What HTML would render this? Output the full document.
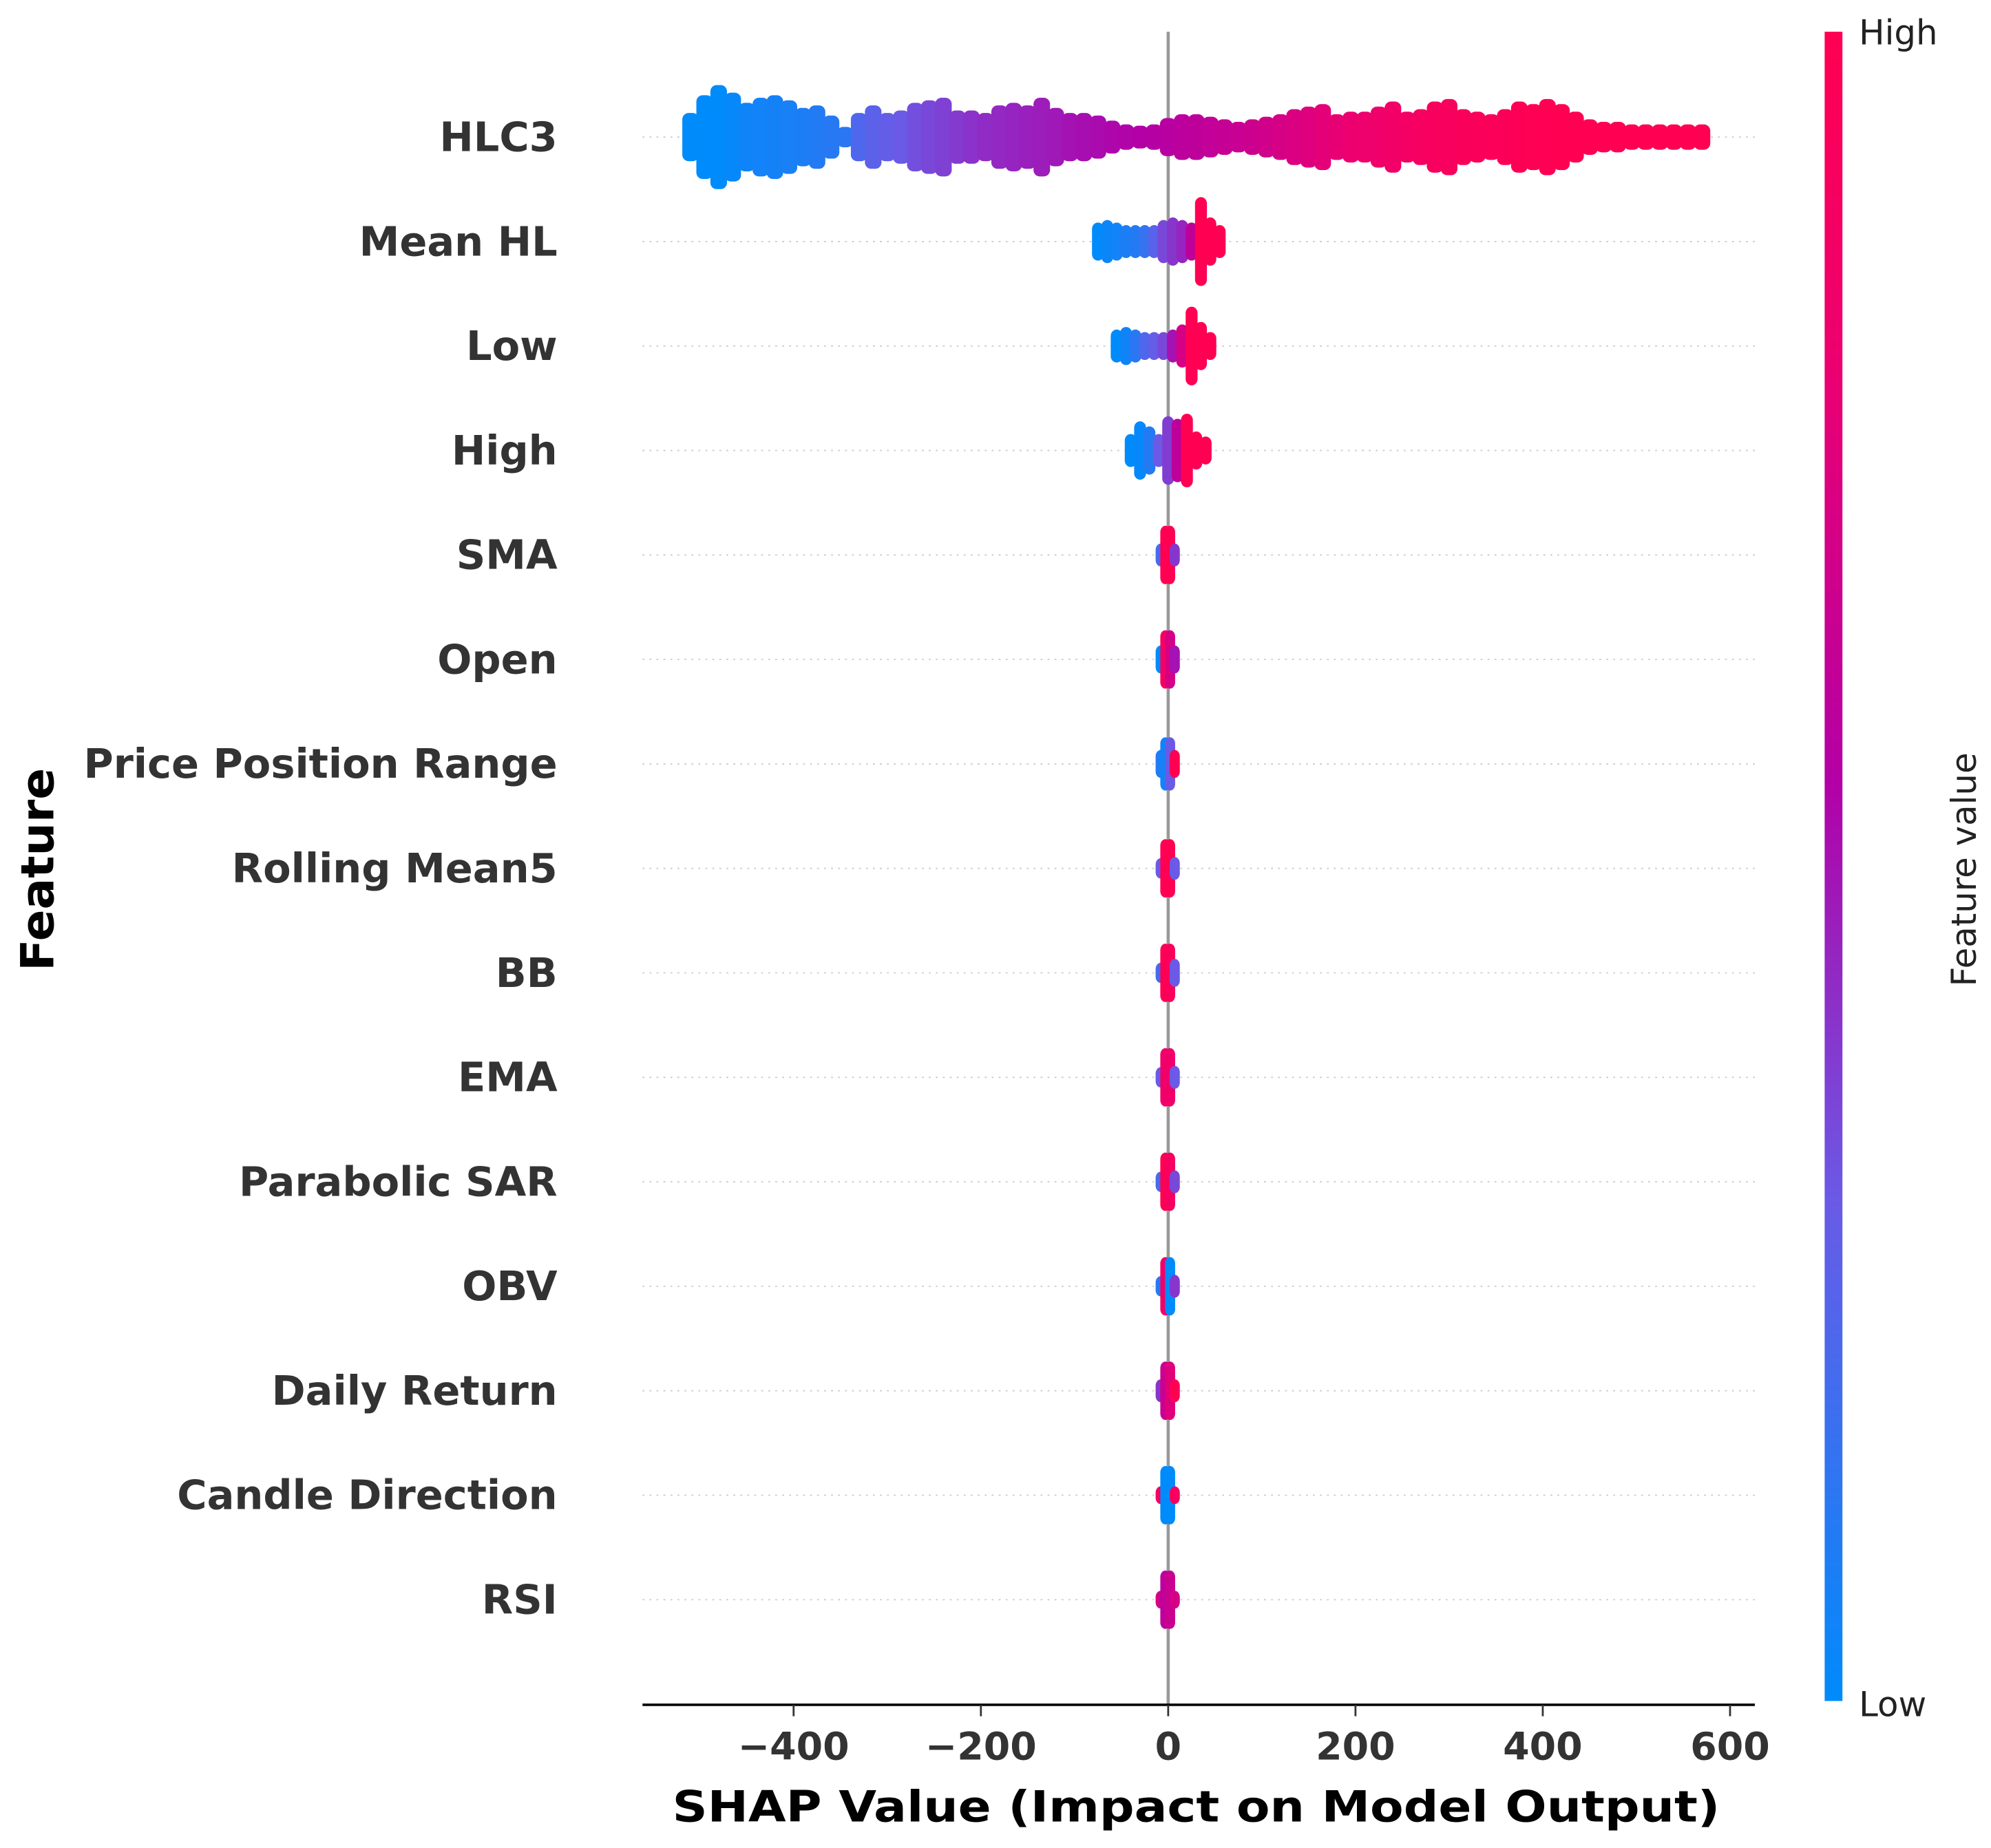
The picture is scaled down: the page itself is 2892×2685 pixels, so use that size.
<!DOCTYPE html>
<html><head><meta charset="utf-8"><style>
html,body{margin:0;padding:0;background:#fff;}
svg{display:block;}
text{font-family:"DejaVu Sans","Liberation Sans",sans-serif;}
</style></head><body>
<svg id="chart" width="2892" height="2685" viewBox="0 0 1568 1455.8" preserveAspectRatio="none" xmlns="http://www.w3.org/2000/svg">
<defs>
<linearGradient id="cbar" x1="0" y1="1" x2="0" y2="0">
<stop offset="0" stop-color="#008bfb"/><stop offset="0.3" stop-color="#6a5ae6"/><stop offset="0.55" stop-color="#b300a6"/><stop offset="0.8" stop-color="#ec0070"/><stop offset="1" stop-color="#ff0052"/>
</linearGradient>
</defs>
<g id="grid"></g>
<line x1="920" y1="25" x2="920" y2="1343" stroke="#999" stroke-width="2.5"/>
<g id="marks"></g>
<g id="labels"></g>
<line x1="506" y1="1343" x2="1382" y2="1343" stroke="#000" stroke-width="2"/>
<g id="xticks"></g>
<text x="942" y="1435" text-anchor="middle" font-size="34" font-weight="bold" fill="#000" textLength="825" lengthAdjust="spacingAndGlyphs">SHAP Value (Impact on Model Output)</text>
<text transform="translate(42,685) rotate(-90)" text-anchor="middle" font-size="36" font-weight="bold" fill="#000" textLength="160" lengthAdjust="spacingAndGlyphs">Feature</text>
<rect x="1437" y="25" width="14" height="1315" fill="url(#cbar)"/>
<text x="1464" y="35" font-size="27" fill="#222">High</text>
<text x="1464" y="1352" font-size="27" fill="#222">Low</text>
<text transform="translate(1556,685) rotate(-90)" text-anchor="middle" font-size="27" fill="#222">Feature value</text>
</svg>
<script>
const features = ["HLC3","Mean HL","Low","High","SMA","Open","Price Position Range","Rolling Mean5","BB","EMA","Parabolic SAR","OBV","Daily Return","Candle Direction","RSI"];
const xTicks = [-400,-200,0,200,400,600];
const hlc3Shap = [-510,-495,-480,-465,-450,-435,-420,-405,-390,-375,-360,-345,-330,-315,-300,-285,-270,-255,-240,-225,-210,-195,-180,-165,-150,-135,-120,-105,-90,-75,-60,-45,-30,-15,0,15,30,45,60,75,90,105,120,135,150,165,180,195,210,225,240,255,270,285,300,315,330,345,360,375,390,405,420,435,450,465,480,495,510,525,540,555,570];
const hlc3Spread = [14,28,36,30,22,26,28,24,18,20,12,3,14,20,14,16,22,24,26,16,16,14,20,22,20,26,18,14,14,12,8,5,4,5,10,13,13,11,9,7,9,11,13,17,19,21,13,15,15,19,23,15,17,23,25,17,15,13,17,23,21,25,21,15,9,7,7,5,5,5,5,5,5];
const hlc3Color = [0,0,0,0.02,0.04,0.05,0.06,0.07,0.08,0.1,0.11,0.12,0.22,0.26,0.28,0.3,0.33,0.35,0.37,0.39,0.41,0.43,0.44,0.45,0.46,0.47,0.48,0.5,0.51,0.52,0.53,0.54,0.55,0.56,0.57,0.59,0.6,0.62,0.63,0.64,0.66,0.68,0.7,0.72,0.74,0.76,0.78,0.8,0.82,0.84,0.86,0.88,0.9,0.92,0.93,0.94,0.95,0.96,0.97,0.98,0.99,1,1,1,1,1,1,1,1,1,1,1,1];
const meanHlShap = [-75,-65,-55,-45,-35,-25,-15,-5,5,15,25,35,45,55];
const meanHlSpread = [10,12,10,8,8,8,8,12,14,12,10,30,14,8];
const meanHlColor = [0,0.03,0.05,0.08,0.1,0.15,0.25,0.35,0.4,0.45,0.6,1,1,1];
const lowShap = [-55,-45,-35,-25,-15,-5,5,15,25,35,45];
const lowSpread = [8,10,8,6,6,6,8,12,26,14,6];
const lowColor = [0,0.04,0.12,0.22,0.28,0.35,0.5,0.7,1,1,1];
const highShap = [-40,-30,-20,-10,0,10,20,30,40];
const highSpread = [8,18,14,8,22,20,24,10,6];
const highColor = [0,0.02,0.1,0.3,0.38,0.6,1,1,1];
const smallShap = [-8,-3,2,7];
const smaSpread = [4,18,18,4];   const smaColor = [0.2,1,1,0.4];
const openSpread = [6,18,18,6];  const openColor = [0,0.9,0.7,0.5];
const pprSpread = [6,16,16,6];   const pprColor = [0.1,0.05,0.3,1];
const rm5Spread = [3,18,18,4];   const rm5Color = [0.3,1,1,0.3];
const bbSpread = [3,18,18,6];    const bbColor = [0.2,1,0.95,0.3];
const emaSpread = [3,18,18,4];   const emaColor = [0.3,0.85,0.85,0.3];
const psarSpread = [3,18,18,4];  const psarColor = [0.2,1,0.9,0.35];
const obvSpread = [3,18,18,4];   const obvColor = [0.1,0.85,0.0,0.4];
const drSpread = [4,18,18,4];    const drColor = [0.4,0.65,0.75,1];
const cdSpread = [2,18,18,2];    const cdColor = [0.9,0.0,0.0,0.9];
const rsiSpread = [2,18,18,2];   const rsiColor = [0.7,0.6,0.65,0.7];
const rowSeries = [
 [hlc3Shap,hlc3Spread,hlc3Color],[meanHlShap,meanHlSpread,meanHlColor],[lowShap,lowSpread,lowColor],[highShap,highSpread,highColor],
 [smallShap,smaSpread,smaColor],[smallShap,openSpread,openColor],[smallShap,pprSpread,pprColor],[smallShap,rm5Spread,rm5Color],
 [smallShap,bbSpread,bbColor],[smallShap,emaSpread,emaColor],[smallShap,psarSpread,psarColor],[smallShap,obvSpread,obvColor],
 [smallShap,drSpread,drColor],[smallShap,cdSpread,cdColor],[smallShap,rsiSpread,rsiColor]];

const NS="http://www.w3.org/2000/svg";
const xScale = v => 920 + v*0.7375;
const yScale = i => 108 + i*82.3;
const stops=[[0,[0,139,251]],[0.3,[106,90,230]],[0.55,[179,0,166]],[0.8,[236,0,112]],[1,[255,0,82]]];
function col(t){t=Math.max(0,Math.min(1,t));for(let k=1;k<stops.length;k++){if(t<=stops[k][0]){const a=stops[k-1],b=stops[k];const f=(t-a[0])/(b[0]-a[0]);const c=a[1].map((v,j)=>Math.round(v+(b[1][j]-v)*f));return `rgb(${c[0]},${c[1]},${c[2]})`;}}return "rgb(255,0,82)";}
const grid=document.getElementById('grid'),marks=document.getElementById('marks'),labels=document.getElementById('labels'),xt=document.getElementById('xticks');
features.forEach((f,i)=>{
 const y=yScale(i);
 const g=document.createElementNS(NS,'line');
 
 
 g.setAttribute('x1',506);g.setAttribute('x2',1382);g.setAttribute('y1',y);g.setAttribute('y2',y);
 g.setAttribute('stroke','#ccc');g.setAttribute('stroke-width','1');g.setAttribute('stroke-dasharray','1.5,4');
 grid.appendChild(g);
 const t=document.createElementNS(NS,'text');
 
 
 t.setAttribute('x',439);t.setAttribute('y',y+11);t.setAttribute('text-anchor','end');
 t.setAttribute('font-size','32');t.setAttribute('font-weight','bold');t.setAttribute('fill','#333');
 t.textContent=f;labels.appendChild(t);
 const [sv,sp,cv]=rowSeries[i];
 const grp=document.createElementNS(NS,'g');
 
 
 sv.forEach((s,k)=>{
  const x=xScale(s),h=sp[k],w=(i<4?Math.max(7,(sv[1]-sv[0])*0.7375+2):8);
  const r=document.createElementNS(NS,'rect');
  
  
  r.setAttribute('x',x-w/2);r.setAttribute('y',y-h-5);r.setAttribute('width',w);r.setAttribute('height',2*h+10);
  r.setAttribute('rx',5);r.setAttribute('fill',col(cv[k]));
  grp.appendChild(r);
 });
 marks.appendChild(grp);
});
xTicks.forEach(v=>{
 const x=xScale(v);
 const l=document.createElementNS(NS,'line');
 
 
 l.setAttribute('x1',x);l.setAttribute('x2',x);l.setAttribute('y1',1343);l.setAttribute('y2',1352);
 l.setAttribute('stroke','#333');l.setAttribute('stroke-width','1.5');xt.appendChild(l);
 const t=document.createElementNS(NS,'text');
 
 
 t.setAttribute('x',x);t.setAttribute('y',1386);t.setAttribute('text-anchor','middle');
 t.setAttribute('font-size','30');t.setAttribute('font-weight','bold');t.setAttribute('fill','#333');
 t.textContent=(v<0?'\u2212'+(-v):String(v));xt.appendChild(t);
});
</script>
</body></html>
